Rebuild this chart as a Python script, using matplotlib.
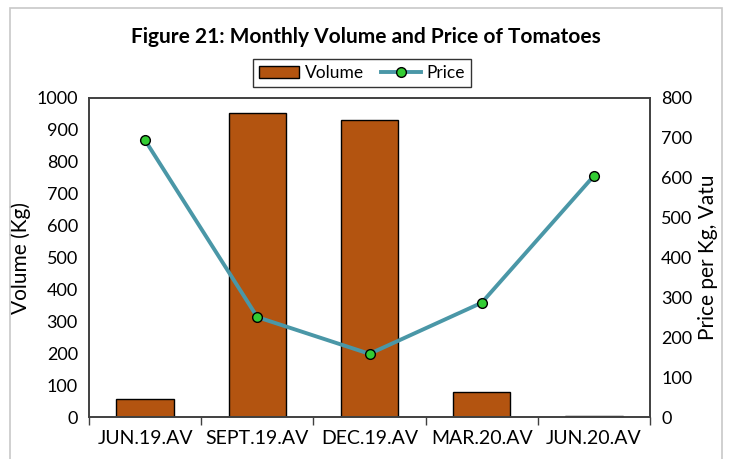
import matplotlib

matplotlib.use("Agg")
import matplotlib.pyplot as plt
import numpy as np
from matplotlib.patches import Rectangle

plt.rcParams["font.family"] = ["Lato", "DejaVu Sans"]

periods = ["JUN.19.AV", "SEPT.19.AV", "DEC.19.AV", "MAR.20.AV", "JUN.20.AV"]
volume = [57, 952, 932, 79, 5]
price = [694, 251, 159, 287, 605]

BAR = "#B35410"
LINE = "#4A97A7"
DOT = "#33CC33"

fig = plt.figure(figsize=(7.29, 4.59), dpi=100)
ax = fig.add_axes([89 / 729, 1 - 417.3 / 459, (650 - 89) / 729, (417.3 - 98) / 459])
ax2 = ax.twinx()

x = np.arange(len(periods))
ax.bar(x, volume, width=0.51, color=BAR, edgecolor="black", linewidth=1.0,
       label="Volume", zorder=2)
ax2.plot(x, price, color=LINE, lw=2.8, marker="o", ms=7, mfc=DOT, mec="black",
         mew=1.0, label="Price", zorder=3)

ax.set_xlim(-0.5, len(periods) - 0.5)
ax.set_ylim(0, 1000)
ax2.set_ylim(0, 800)
ax.set_yticks(np.arange(0, 1001, 100))
ax2.set_yticks(np.arange(0, 801, 100))

# category labels centred, tick marks on the boundaries (Excel style)
ax.set_xticks(x)
ax.set_xticklabels(periods, fontsize=14)
ax.set_xticks(np.arange(-0.5, len(periods), 1), minor=True)
ax.tick_params(axis="x", which="major", length=0, pad=9)
ax.tick_params(axis="x", which="minor", length=6, width=1, color="#404040")
ax.tick_params(axis="y", length=0, labelsize=13, pad=8)
ax2.tick_params(axis="y", length=0, labelsize=13, pad=8)

for a in (ax, ax2):
    for s in a.spines.values():
        s.set_color("#404040")
        s.set_linewidth(1.2)

ax.set_ylabel("Volume (Kg)", fontsize=15, labelpad=4)
ax2.set_ylabel("Price per Kg, Vatu", fontsize=15, labelpad=4)

fig.text(366 / 729, 1 - 37 / 459, "Figure 21: Monthly Volume and Price of Tomatoes",
         ha="center", va="center", fontsize=15, fontweight="bold")

h1, l1 = ax.get_legend_handles_labels()
h2, l2 = ax2.get_legend_handles_labels()
leg = fig.legend(h1 + h2, l1 + l2, loc="center", bbox_to_anchor=(362 / 729, 1 - 73 / 459),
                 ncol=2, frameon=True, fancybox=False, edgecolor="black", fontsize=12.5,
                 handlelength=2.3, handletextpad=0.3, columnspacing=1.0, borderpad=0.35)
leg.get_frame().set_linewidth(1.0)

# light outer chart border
fig.patches.append(Rectangle((10 / 729, -0.01), (722 - 10) / 729, 1 - 8 / 459 + 0.01,
                             transform=fig.transFigure, fill=False,
                             edgecolor="#C8C8C8", linewidth=1.2))

fig.savefig("out.png", dpi=100)
